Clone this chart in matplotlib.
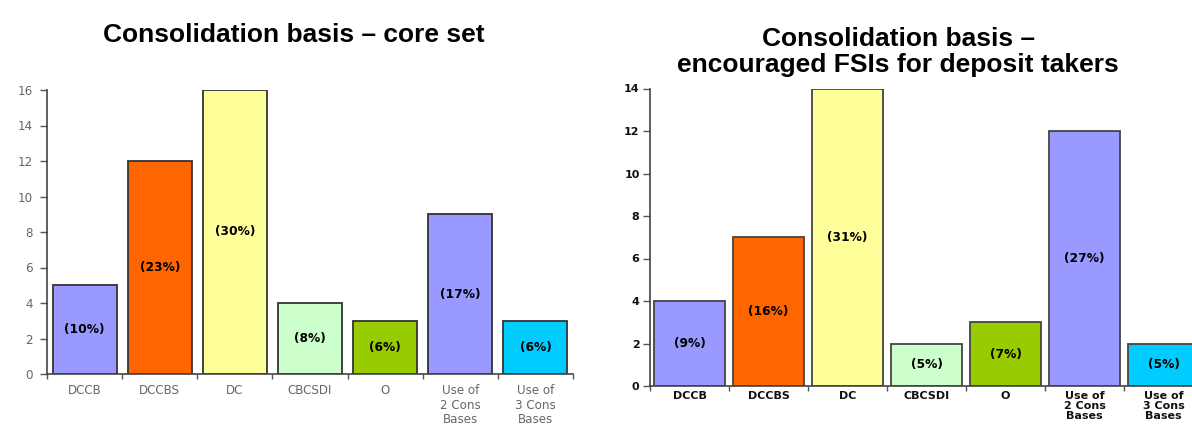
import matplotlib
matplotlib.use("Agg")
import matplotlib.pyplot as plt
import numpy as np

# Categories shared by both panels
categories = ["DCCB", "DCCBS", "DC", "CBCSDI", "O",
              "Use of\n2 Cons\nBases", "Use of\n3 Cons\nBases"]
bar_colors = ["#9999FF", "#FF6600", "#FFFF99", "#CCFFCC", "#99CC00",
              "#9999FF", "#00CCFF"]

# Core set: number of countries per consolidation basis
core_counts = [5, 12, 16, 4, 3, 9, 3]
core_shares = ["(10%)", "(23%)", "(30%)", "(8%)", "(6%)", "(17%)", "(6%)"]
core_yticks = [0, 2, 4, 6, 8, 10, 12, 14, 16]

# Encouraged FSIs for deposit takers
enc_counts = [4, 7, 14, 2, 3, 12, 2]
enc_shares = ["(9%)", "(16%)", "(31%)", "(5%)", "(7%)", "(27%)", "(5%)"]
enc_yticks = [0, 2, 4, 6, 8, 10, 12, 14]

W, H = 1192, 426
fig = plt.figure(figsize=(W / 100, H / 100), dpi=100)
fig.patch.set_facecolor("white")


def px_axes(x0, x1, y_top, y_bot):
    return fig.add_axes([x0 / W, 1 - y_bot / H, (x1 - x0) / W, (y_bot - y_top) / H])


def draw_panel(ax, counts, shares, yticks, width, label_color, label_weight,
               label_size, label_pad, ytick_pad, linespacing, edge):
    x = np.arange(len(categories))
    ax.bar(x, counts, width=width, color=bar_colors, edgecolor=edge,
           linewidth=1.3, zorder=2)
    for xi, c, s in zip(x, counts, shares):
        ax.text(xi, c / 2, s, ha="center", va="center", fontsize=8.8,
                fontweight="bold", color="black", family="DejaVu Sans",
                zorder=3)
    ax.set_xlim(-0.5, len(categories) - 0.5)
    ax.set_ylim(0, max(yticks))
    ax.set_yticks(yticks)
    ax.set_yticklabels([str(t) for t in yticks], fontsize=label_size,
                       color=label_color, fontweight=label_weight,
                       family="DejaVu Sans")
    ax.set_xticks(x)
    ax.set_xticklabels(categories, fontsize=label_size, color=label_color,
                       fontweight=label_weight, family="DejaVu Sans",
                       linespacing=linespacing)
    ax.set_xticks(np.arange(len(categories) + 1) - 0.5, minor=True)
    ax.tick_params(axis="x", which="major", length=0, pad=label_pad)
    ax.tick_params(axis="x", which="minor", length=3.5, color="#555555",
                   width=1.0, direction="out")
    ax.tick_params(axis="y", length=5, color="#555555", width=1.0,
                   direction="out", pad=ytick_pad)
    for side in ("top", "right"):
        ax.spines[side].set_visible(False)
    for side in ("left", "bottom"):
        ax.spines[side].set_color("#444444")
        ax.spines[side].set_linewidth(1.2)
    ax.set_facecolor("white")


# Left panel
ax1 = px_axes(47, 573, 90, 374)
draw_panel(ax1, core_counts, core_shares, core_yticks, 0.85, "#666666",
           "normal", 8.6, 7.5, 5, 1.12, "#333333")

# Right panel (extends slightly beyond the figure edge)
ax2 = px_axes(650, 650 + 7 * 79, 88.5, 386)
draw_panel(ax2, enc_counts, enc_shares, enc_yticks, 0.89, "#111111",
           "bold", 8.0, 3.5, 2.5, 1.0, "#444444")

# Titles
title_kw = dict(ha="center", va="baseline", fontsize=19, fontweight="bold",
                family="Liberation Sans")
fig.text(294 / W, 1 - 42 / H, "Consolidation basis \u2013 core set", **title_kw)
fig.text(898 / W, 1 - 46 / H, "Consolidation basis \u2013", **title_kw)
fig.text(898 / W, 1 - 72 / H, "encouraged FSIs for deposit takers", **title_kw)

fig.savefig("out.png", dpi=100, facecolor="white")
